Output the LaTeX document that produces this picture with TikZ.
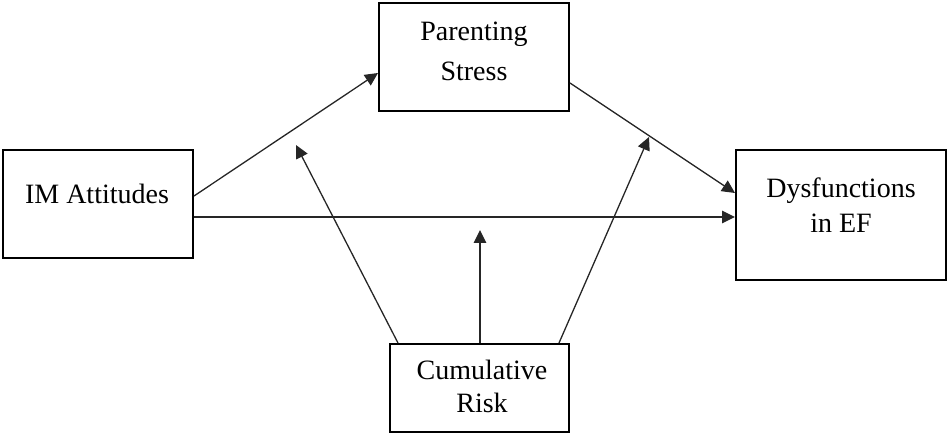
\documentclass[tikz,border=0pt]{standalone}
\usepackage{fontspec}
\setmainfont{Liberation Serif}
\usetikzlibrary{arrows.meta}
\begin{document}
\begin{tikzpicture}[x=1pt,y=-1pt,
  box/.style={draw=black,line width=2pt,inner sep=0pt,fill=white},
  lbl/.style={inner sep=0pt,anchor=base},
  link/.style={draw=black!85,line width=1.3pt,-{Triangle[length=13pt,width=12.5pt]}}]
\useasboundingbox (0,0) rectangle (948,435);

% boxes (centre, size)
\node[box,minimum width=190pt,minimum height=108pt] (ps)  at (474,57)  {};
\node[box,minimum width=190pt,minimum height=108pt] (im)  at (98,204)  {};
\node[box,minimum width=210pt,minimum height=130pt] (def) at (841,215) {};
\node[box,minimum width=179pt,minimum height=88pt]  (cr)  at (479.5,388) {};

% labels
\node[lbl,font=\fontsize{28}{40}\selectfont] (pst) at (474,41)
  {\begin{tabular}[t]{@{}c@{}}Parenting\\Stress\end{tabular}};
\node[lbl,font=\fontsize{28}{35}\selectfont] (imt) at (97,204) {IM Attitudes};
\node[lbl,font=\fontsize{28}{34.5}\selectfont] (deft) at (841,198)
  {\begin{tabular}[t]{@{}c@{}}Dysfunctions\\in EF\end{tabular}};
\node[lbl,font=\fontsize{28}{33}\selectfont] (crt) at (482,380)
  {\begin{tabular}[t]{@{}c@{}}Cumulative\\Risk\end{tabular}};

% moderation targets on the paths
\coordinate (m1) at (296,145);
\coordinate (m2) at (480,230);
\coordinate (m3) at (649,137);

% paths
\draw[link] ([yshift=8pt]im.east) -- ([yshift=-16pt]ps.west);
\draw[link] ([yshift=-26pt]ps.east) -- ([yshift=22pt]def.west);
\draw[link] ([yshift=-13pt]im.east) -- ([yshift=-13pt]im.east -| def.west);
\draw[link] ([xshift=-81.5pt]cr.north) -- (m1);
\draw[link] ([xshift=0.5pt]cr.north) -- (m2);
\draw[link] ([xshift=79.5pt]cr.north) -- (m3);
\end{tikzpicture}
\end{document}
